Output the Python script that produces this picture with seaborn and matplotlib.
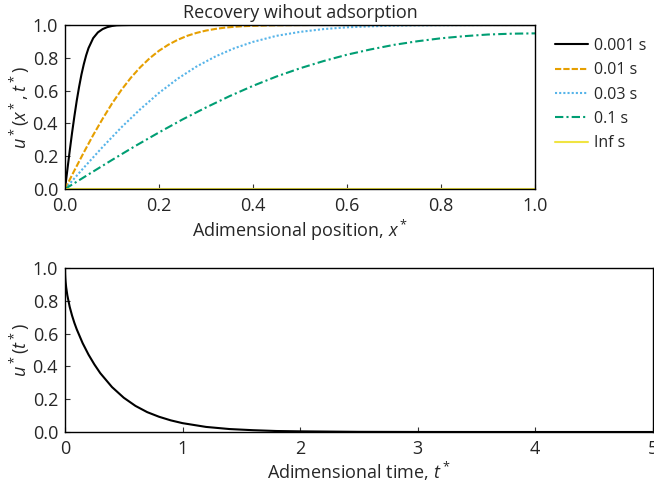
import numpy as np
import pandas as pd
import matplotlib
matplotlib.use("Agg")
import matplotlib.pyplot as plt
import seaborn as sns

# ---------------- data ----------------
series_labels = ["0.001 s", "0.01 s", "0.03 s", "0.1 s", "Inf s"]

x_001 = [0, 0.005, 0.01, 0.015, 0.02, 0.025, 0.03, 0.035, 0.04, 0.045, 0.05,
         0.06, 0.07, 0.08, 0.09, 0.10, 0.11, 0.12, 0.14, 1.0]
u_001 = [0, 0.117, 0.232, 0.342, 0.444, 0.539, 0.623, 0.698, 0.761, 0.815, 0.859,
         0.920, 0.955, 0.975, 0.987, 0.994, 0.998, 0.999, 1.0, 1.0]

x_01 = [0, 0.02, 0.04, 0.06, 0.08, 0.10, 0.12, 0.14, 0.16, 0.18, 0.20, 0.22, 0.24,
        0.26, 0.28, 0.30, 0.32, 0.34, 0.36, 0.38, 0.40, 0.44, 0.48, 0.52, 0.60, 1.0]
u_01 = [0, 0.113, 0.223, 0.329, 0.428, 0.521, 0.604, 0.678, 0.742, 0.797, 0.843,
        0.880, 0.910, 0.934, 0.952, 0.966, 0.976, 0.984, 0.989, 0.993, 0.995,
        0.998, 0.999, 1.0, 1.0, 1.0]

x_03 = [0, 0.04, 0.08, 0.12, 0.16, 0.20, 0.24, 0.28, 0.32, 0.36, 0.40, 0.45, 0.50,
        0.55, 0.60, 0.65, 0.70, 0.75, 0.80, 0.90, 1.0]
u_03 = [0, 0.130, 0.256, 0.376, 0.486, 0.586, 0.673, 0.747, 0.808, 0.858, 0.897,
        0.934, 0.958, 0.975, 0.986, 0.992, 0.996, 0.998, 0.999, 1.0, 1.0]

x_1 = [0, 0.05, 0.10, 0.15, 0.20, 0.25, 0.30, 0.35, 0.40, 0.45, 0.50, 0.55, 0.60,
       0.65, 0.70, 0.75, 0.80, 0.85, 0.90, 0.95, 1.0]
u_1 = [0, 0.089, 0.177, 0.263, 0.345, 0.424, 0.497, 0.566, 0.629, 0.686, 0.736,
       0.780, 0.819, 0.851, 0.879, 0.901, 0.919, 0.932, 0.942, 0.947, 0.949]

x_inf = [0, 1.0]
u_inf = [0, 0]

t_vals = [0, 0.001, 0.0025, 0.005, 0.01, 0.02, 0.04, 0.06, 0.08, 0.10, 0.15, 0.20,
          0.25, 0.30, 0.40, 0.50, 0.60, 0.70, 0.80, 0.90, 1.0, 1.2, 1.4, 1.6, 1.8,
          2.0, 2.5, 3.0, 3.5, 4.0, 5.0]
u_t = [1.0, 0.963, 0.941, 0.916, 0.882, 0.833, 0.763, 0.710, 0.665, 0.626, 0.542,
       0.472, 0.412, 0.359, 0.274, 0.209, 0.159, 0.121, 0.093, 0.071, 0.054, 0.031,
       0.018, 0.011, 0.006, 0.004, 0.001, 0.0002, 0.0, 0.0, 0.0]

x_ticks = [0.0, 0.2, 0.4, 0.6, 0.8, 1.0]
y_ticks = [0.0, 0.2, 0.4, 0.6, 0.8, 1.0]
t_ticks = [0, 1, 2, 3, 4, 5]

# ---------------- style ----------------
sns.set_theme(style="white")
FONT = "Open Sans"
plt.rcParams["font.family"] = [FONT, "DejaVu Sans"]
plt.rcParams["mathtext.fontset"] = "custom"
plt.rcParams["mathtext.rm"] = FONT
plt.rcParams["mathtext.it"] = FONT + ":italic"
plt.rcParams["mathtext.bf"] = FONT + ":bold"

FS = 13
LEG_FS = 11.5
colors = ["#000000", "#E69F00", "#56B4E9", "#009E73", "#F0E442"]
dash_patterns = [None, (3, 1), (1, 1), (4, 1.5, 1, 1.5), None]
LW = 1.5

W, H = 654, 488
fig = plt.figure(figsize=(W / 100, H / 100), dpi=100)

def frac_axes(l, t, r, b):
    return fig.add_axes([l / W, 1 - b / H, (r - l) / W, (b - t) / H])

ax1 = frac_axes(65, 25, 535, 189)
ax2 = frac_axes(65, 268, 652.5, 432)

xs = [x_001, x_01, x_03, x_1, x_inf]
us = [u_001, u_01, u_03, u_1, u_inf]
for xv, uv, lab, col, dp in zip(xs, us, series_labels, colors, dash_patterns):
    df = pd.DataFrame({"x": xv, "u": uv})
    n_before = len(ax1.lines)
    sns.lineplot(data=df, x="x", y="u", ax=ax1, color=col, lw=LW, label=lab,
                 estimator=None, sort=False)
    line = ax1.lines[n_before]
    if dp is not None:
        line.set_dashes(dp)

dft = pd.DataFrame({"t": t_vals, "u": u_t})
sns.lineplot(data=dft, x="t", y="u", ax=ax2, color="black", lw=LW,
             estimator=None, sort=False)

for ax in (ax1, ax2):
    for sp in ax.spines.values():
        sp.set_visible(True)
        sp.set_color("black")
        sp.set_linewidth(1.0)
    ax.tick_params(axis="both", which="both", direction="in", length=3.5,
                   width=0.8, color="#333333", labelsize=FS,
                   bottom=True, left=True, top=False, right=False)
    ax.tick_params(axis="x", pad=6)
    ax.tick_params(axis="y", pad=5)
    ax.set_ylim(0, 1)
    ax.set_yticks(y_ticks)
    ax.set_yticklabels([f"{v:.1f}" for v in y_ticks])

ax1.set_xlim(0, 1)
ax1.set_xticks(x_ticks)
ax1.set_xticklabels([f"{v:.1f}" for v in x_ticks])
ax1.set_xlabel(r"Adimensional position, $x^*$", fontsize=FS, labelpad=1.5)
ax1.set_ylabel(r"$u^*(x^*,t^*)$", fontsize=FS, labelpad=0.5)
ax1.set_title("Recovery wihout adsorption", fontsize=FS, pad=5)

ax2.set_xlim(0, 5)
ax2.set_xticks(t_ticks)
ax2.set_xticklabels([str(v) for v in t_ticks])
ax2.set_xlabel(r"Adimensional time, $t^*$", fontsize=FS, labelpad=1)
ax2.set_ylabel(r"$u^*(t^*)$", fontsize=FS, labelpad=0.5)

if ax1.legend_:
    ax1.legend_.remove()
handles, labels = ax1.get_legend_handles_labels()
fig.legend(handles, labels, loc="upper left", bbox_to_anchor=(555 / W, 1 - 38 / H),
           frameon=False, fontsize=LEG_FS, handlelength=2.05, handletextpad=0.37,
           labelspacing=0.52, borderpad=0, borderaxespad=0)

fig.savefig("out.png", dpi=100)
